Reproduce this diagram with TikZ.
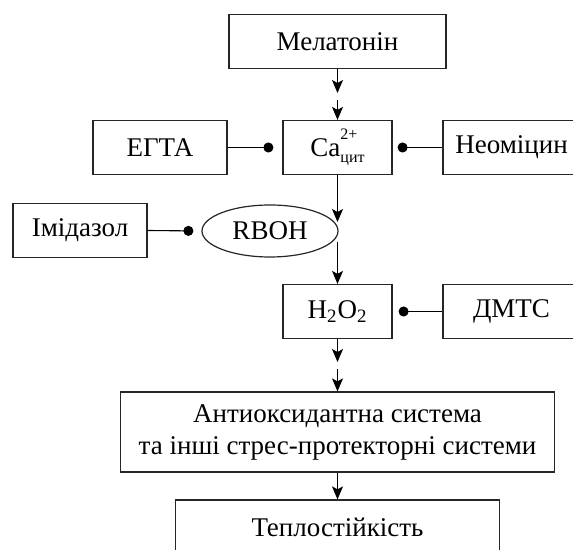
\documentclass[tikz,border=0pt]{standalone}
\usepackage{fontspec}
\setmainfont{Liberation Serif}
\usetikzlibrary{arrows.meta,shapes.geometric}
\newcommand\calabel{Ca\rlap{\raisebox{0.62em}{\fontsize{8}{8}\selectfont 2+}}%
  \raisebox{-0.22em}{\fontsize{8}{8}\selectfont цит}}
\begin{document}
\begin{tikzpicture}[x=0.5pt,y=-0.5pt,
    font=\fontsize{13.5}{16}\selectfont,
    box/.style={draw=black!85,line width=0.6pt,inner sep=0pt,minimum height=27pt},
    oval/.style={draw=black!85,line width=0.6pt,ellipse,inner sep=0pt,
      minimum width=68pt,minimum height=26pt},
    act/.style={line width=0.55pt,-{Stealth[length=6.5pt,width=5.5pt,inset=1.5pt]}},
    inh/.style={line width=0.55pt,-{Circle[length=5pt]}}]
    \useasboundingbox (0,0) rectangle (573,550);
    \clip (0,0) rectangle (573,550);
    % nodes
    \node[box,minimum width=108.5pt] (mel) at (337.5,41.5) {Мелатонін};
    \node[box,minimum width=54.5pt] (ca) at (337.5,147.5) {\calabel};
    \node[box,minimum width=67pt] (egta) at (160,147.5) {ЕГТА};
    \node[box,minimum width=68.5pt] (neo) at (511.5,147.5) {Неоміцин};
    \node[box,minimum width=67pt] (imid) at (80,230.5) {Імідазол};
    \node[oval] (rboh) at (270,231) {RBOH};
    \node[box,minimum width=54.5pt] (h2o2) at (337.5,311.5) {H\textsubscript{2}O\textsubscript{2}};
    \node[box,minimum width=68.5pt] (dmts) at (511.5,311.5) {ДМТС};
    \node[box,minimum width=217pt,minimum height=40pt,align=center] (anti) at (337.5,432)
      {Антиоксидантна система\\та інші стрес-протекторні системи};
    \node[box,minimum width=162pt] (teplo) at (337.5,527) {Теплостійкість};
    % breaks in the vertical arrows
    \coordinate (m1) at (337.5,93);
    \coordinate (m2) at (337.5,100);
    \coordinate (r1) at (337.5,222);
    \coordinate (r2) at (337.5,242);
    \coordinate (h1) at (337.5,362);
    \coordinate (h2) at (337.5,369);
    % activation
    \draw[act] (mel.south) -- (m1);
    \draw[act] (m2) -- (ca.north);
    \draw[act] (ca.south) -- (r1);
    \draw[act] (r2) -- (h2o2.north);
    \draw[act] (h2o2.south) -- (h1);
    \draw[act] (h2) -- (anti.north);
    \draw[act] (anti.south) -- (teplo.north);
    % inhibition
    \draw[inh,shorten >=4.5pt] (egta.east) -- (ca.west);
    \draw[inh,shorten >=2.5pt] (neo.west) -- (ca.east);
    \draw[inh,shorten >=4pt] (imid.east) -- (rboh.west);
    \draw[inh,shorten >=3pt] (dmts.west) -- (h2o2.east);
\end{tikzpicture}
\end{document}
